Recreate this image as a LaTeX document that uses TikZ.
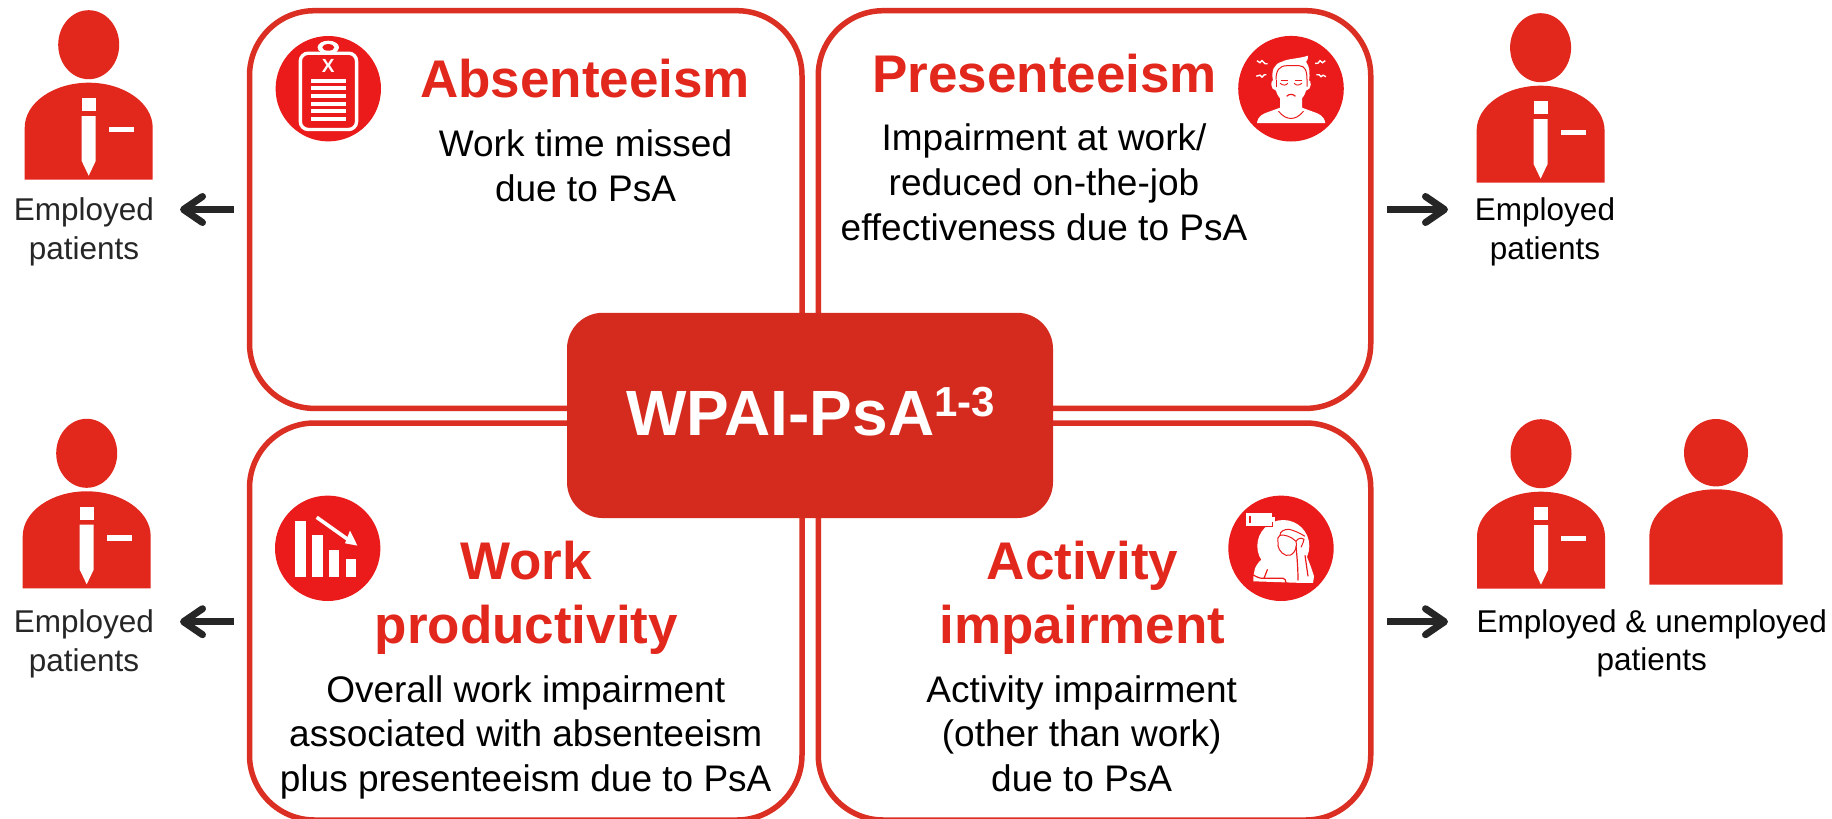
\documentclass[tikz,border=0pt]{standalone}
\usepackage{fontspec}
\setmainfont{Liberation Sans}
\usetikzlibrary{arrows.meta}
\definecolor{figred}{HTML}{E2271C}
\definecolor{iconred}{HTML}{EB1B1B}
\definecolor{hubred}{HTML}{D52B1E}
\definecolor{linered}{HTML}{DA2F22}
\definecolor{inkdark}{HTML}{262626}
\tikzset{
  panel/.style={draw=linered,line width=5.5pt,fill=white,rounded corners=65pt,minimum width=552.5pt,minimum height=#1,outer sep=0pt,inner sep=0pt},
  hub/.style={fill=hubred,rounded corners=36pt,minimum width=486pt,minimum height=205.3pt,outer sep=0pt,inner sep=0pt},
  titletext/.style={anchor=base,inner sep=0pt,text=figred,align=center,font=\fontsize{53}{64}\selectfont\bfseries},
  bodytext/.style={anchor=base,inner sep=0pt,text=black,align=center,font=\fontsize{37}{44.6}\selectfont},
  sidetext/.style={anchor=base,inner sep=0pt,align=center,font=\fontsize{31.5}{38.4}\selectfont},
  flow/.style={draw=inkdark,line width=7pt,-{Straight Barb[length=19pt,width=26pt,line width=7pt,round]}},
  employee/.pic={
    \fill[figred] (0,-38) ellipse [x radius=30.5pt,y radius=34.5pt];
    \fill[figred] (-64,97) -- (-64,45) .. controls (-64,20) and (-35,0) .. (0,0) .. controls (35,0) and (64,20) .. (64,45) -- (64,97) -- cycle;
    \fill[white] (-7,15.6) rectangle (7,28.3);
    \fill[white] (-7,33.3) -- (7,33.3) -- (7,78.3) -- (0,93) -- (-7,78.3) -- cycle;
    \fill[white] (20.3,44) rectangle (45.3,49.3);
  },
  civilian/.pic={
    \fill[figred] (0,-36.6) ellipse [x radius=32pt,y radius=33.7pt];
    \fill[figred] (-66.7,95.4) -- (-66.7,47.4) .. controls (-66.7,21) and (-37,0) .. (0,0) .. controls (37,0) and (66.7,21) .. (66.7,47.4) -- (66.7,95.4) -- cycle;
  },
  clipboardicon/.pic={
    \fill[iconred] (0,0) circle (52.7pt);
    \draw[white,line width=3.4pt,rounded corners=8pt] (-28,-35.5) rectangle (28.3,40.8);
    \fill[white] (0,-41.3) ellipse [x radius=10.7pt,y radius=6.7pt];
    \fill[iconred] (0,-41.3) ellipse [x radius=6pt,y radius=3.3pt];
    \node[inner sep=0pt,text=white,font=\fontsize{19}{19}\selectfont\bfseries] (clipx) at (0,-22.3) {X};
    \foreach \k in {0,...,5} {\fill[white] (-17.7,-10+7.65*\k) rectangle (17.3,-6+7.65*\k);}
  },
  chartdownicon/.pic={
    \fill[iconred] (0,0) circle (52.7pt);
    \fill[white] (-32.7,-27.3) rectangle (-21.7,28.7);
    \fill[white] (-15.7,-13.3) rectangle (-4.7,28.7);
    \fill[white] (1.3,1.7) rectangle (11.3,28.7);
    \fill[white] (18.3,10.7) rectangle (28.3,28.7);
    \draw[white,line width=3.6pt] (-11,-31) -- (20,-9);
    \fill[white] (29.7,-2.7) -- (22.3,-17.7) -- (17.3,-5) -- cycle;
  },
  headacheicon/.pic={
    \fill[iconred] (0,0) circle (52.8pt);
    % shoulders and neck
    \fill[white] (-34,34.3) .. controls (-33,27) and (-28,25) .. (-22,23) -- (-11,19) -- (-11,8) -- (11,8) -- (11,19) -- (22,23) .. controls (28,25) and (33,27) .. (34.3,34.3) -- cycle;
    \draw[iconred,line width=1pt] (-12.5,22.5) .. controls (-8,28) and (-4,29.7) .. (0,29.7) .. controls (4,29.7) and (8,28) .. (12.5,22.5);
    % face
    \fill[white] (-17,-9) .. controls (-21,-9) and (-21,1) .. (-15,2) .. controls (-13,10) and (-6,15) .. (0,15) .. controls (6,15) and (13,10) .. (15,2) .. controls (21,1) and (21,-9) .. (17,-9) -- cycle;
    \fill[white] (-18,-8) .. controls (-20,-18) and (-17,-25) .. (-9,-27) .. controls (-4,-30) and (8,-30) .. (17,-33) .. controls (17,-29) and (16,-28) .. (15,-27) .. controls (19,-22) and (19,-14) .. (18,-8) -- cycle;
    \draw[iconred,line width=1pt] (-15,-9) .. controls (-15,-18) and (-12,-23) .. (-4,-23) -- (8,-23) .. controls (14,-23) and (16,-18) .. (16,-9) -- (16,-2);
    \draw[iconred,line width=1pt] (-15,-9) -- (-15,-2);
    \draw[iconred,line width=.9pt] (-11,-5.5) .. controls (-8,-3) and (-5,-3) .. (-3.2,-5.5) (3.2,-5.5) .. controls (5,-3) and (8,-3) .. (11,-5.5);
    \draw[iconred,line width=.8pt] (-10.5,-8.5) -- (-3.5,-8.5) (3.5,-8.5) -- (10.5,-8.5);
    \draw[iconred,line width=1.2pt] (-4.4,7.6) .. controls (-2,5) and (2,5) .. (4.4,7.6);
    % squiggles
    \draw[white,line width=1.4pt] (-34,-28) -- (-31,-26) -- (-29,-28) -- (-26,-25) -- (-23.5,-25);
    \draw[white,line width=1.4pt] (-34.7,-12.5) -- (-31,-13.5) -- (-29,-11.5) -- (-26.5,-14) -- (-24.6,-14);
    \draw[white,line width=1.4pt] (24.2,-25.3) -- (27,-25.5) -- (29,-28) -- (31.5,-26) -- (34.3,-28);
    \draw[white,line width=1.4pt] (25.4,-14) -- (28,-14) -- (30,-12) -- (32,-13.5) -- (35,-12);
  },
  fatigueicon/.pic={
    \fill[iconred] (0,0) circle (52.7pt);
    \fill[white] (2.3,-2.3) circle (26pt);
    % torso
    \fill[white] (-27.7,33) .. controls (-28,28) and (-27,25) .. (-26,20) .. controls (-22,12) and (-19,9.5) .. (-3,2.7) -- (6,12) -- (16,7) -- (21,-2) .. controls (26,8) and (30,18) .. (33,28) -- (32,35) -- cycle;
    % head
    \fill[white] (6.3,-5) ellipse [x radius=10pt,y radius=12.5pt];
    \draw[iconred,line width=1pt] (15,-7) .. controls (17,1) and (11,9) .. (5,7) .. controls (-1,5) and (-4,-2) .. (-3,-6) .. controls (-4,-9) and (-3,-12) .. (-1,-13) .. controls (-1,-17) and (3,-19) .. (8,-19) .. controls (13,-18) and (19,-15) .. (24,-12);
    \draw[iconred,line width=1pt] (-1,-13) .. controls (3,-14) and (10,-12) .. (15,-7) .. controls (17,-10) and (20,-11) .. (23,-9) .. controls (22,-5) and (21,-3) .. (20,-1);
    % arm
    \draw[iconred,line width=1.2pt] (15,-2) .. controls (16,8) and (17,20) .. (17,32);
    \draw[iconred,line width=1.2pt] (24,7) -- (27,28);
    \draw[iconred,line width=1.2pt] (-28,26.5) .. controls (-24,29) and (-20,30.5) .. (-17,30) -- (2,30) .. controls (4,30) and (5,32) .. (5,35);
    \draw[iconred,line width=1.2pt] (-13.5,21) -- (-17,30);
    \draw[iconred,line width=1pt] (-36,35.3) -- (36,35.3);
    % battery
    \fill[white,draw=iconred,line width=1pt] (-35.5,-35.5) rectangle (-8.5,-22.2);
    \fill[white] (-9,-31) rectangle (-6,-26.5);
    \draw[iconred,line width=1.2pt] (-31,-32.5) -- (-31,-25.5);
  }
}
\begin{document}
\begin{tikzpicture}[x=1pt,y=-1pt]
\useasboundingbox[fill=white] (0,0) rectangle (1832,819);

% panels
\node[panel=397.7pt] (absent) at (525.75,209.55) {};
\node[panel=397.7pt] (present) at (1094.5,209.55) {};
\node[panel=397pt] (product) at (525.75,621.5) {};
\node[panel=397pt] (activity) at (1094.5,621.5) {};
\node[hub] (core) at (810,415.4) {};
\node[anchor=base west,inner sep=0pt,text=white,font=\fontsize{64}{64}\selectfont\bfseries] (coretext) at (626,435.7) {WPAI-PsA\raisebox{19pt}{\fontsize{42}{42}\selectfont 1-3}};

% icons
\pic at (328.3,88.7) {clipboardicon};
\pic at (1291,88.7) {headacheicon};
\pic at (327.7,548.3) {chartdownicon};
\pic at (1281,548.3) {fatigueicon};

% panel texts (a multi-line node's base is its last line)
\node[titletext] (t1) at (585,97.3) {Absenteeism};
\node[bodytext] (b1) at (585.5,201.3) {Work time missed\\due to PsA};
\node[titletext] (t2) at (1044.7,92.7) {Presenteeism};
\node[bodytext] (b2) at (1044,240) {Impairment at work/\\reduced on-the-job\\effectiveness due to PsA};
\node[titletext] (t3) at (526.3,643) {Work\\productivity};
\node[bodytext] (b3) at (525.7,791.3) {Overall work impairment\\associated with absenteeism\\plus presenteeism due to PsA};
\node[titletext] (t4) at (1082.5,643) {Activity\\impairment};
\node[bodytext] (b4) at (1081.7,791.3) {Activity impairment\\(other than work)\\due to PsA};

% people
\pic at (88.7,82.7) {employee};
\pic at (1540.6,85.7) {employee};
\pic at (86.7,491.3) {employee};
\pic at (1541,491.7) {employee};
\pic at (1716,489.3) {civilian};

% side labels
\node[sidetext,text=inkdark] (s1) at (84,259.1) {Employed\\patients};
\node[sidetext,text=black] (s2) at (1545,259.1) {Employed\\patients};
\node[sidetext,text=inkdark] (s3) at (84,671) {Employed\\patients};
\node[sidetext,text=black] (s4) at (1651.8,670.7) {Employed \& unemployed\\patients};

% arrows
\coordinate (a1s) at (234,209.5); \coordinate (a1e) at (180,209.5);
\coordinate (a2s) at (1387,209.5); \coordinate (a2e) at (1448,209.5);
\coordinate (a3s) at (234,621.7); \coordinate (a3e) at (180,621.7);
\coordinate (a4s) at (1387,621.7); \coordinate (a4e) at (1448,621.7);
\draw[flow] (a1s) -- (a1e);
\draw[flow] (a2s) -- (a2e);
\draw[flow] (a3s) -- (a3e);
\draw[flow] (a4s) -- (a4e);
\end{tikzpicture}
\end{document}
